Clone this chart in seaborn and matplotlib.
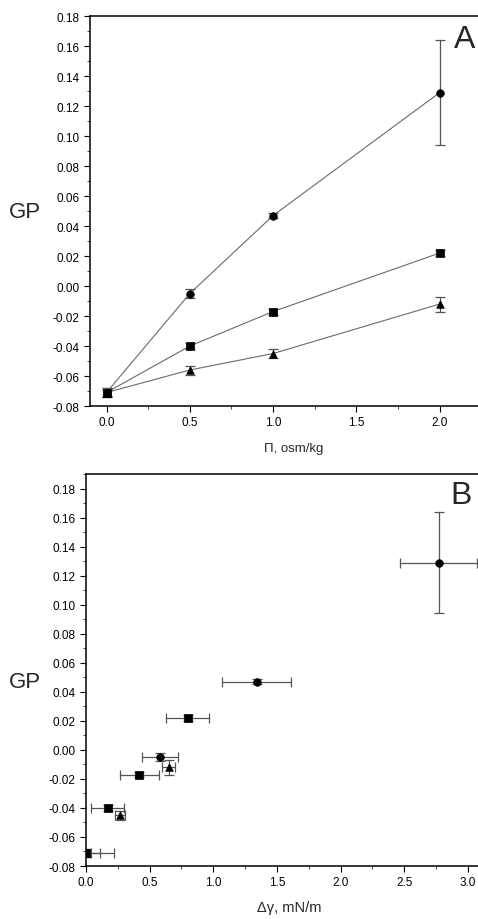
import numpy as np
import pandas as pd
import matplotlib
matplotlib.use("Agg")
import matplotlib.pyplot as plt
from matplotlib.ticker import MultipleLocator
import seaborn as sns

# Osmotic pressure (osm/kg)
osm = [0.0, 0.5, 1.0, 2.0]

# GP values per series (circle / square / triangle)
gp_circle = [-0.071, -0.005, 0.047, 0.129]
gp_square = [-0.071, -0.040, -0.017, 0.022]
gp_triangle = [-0.071, -0.056, -0.045, -0.012]

gp_circle_err = [0.003, 0.003, 0.0015, 0.035]
gp_square_err = [0.002, 0.002, 0.002, 0.002]
gp_triangle_err = [0.003, 0.003, 0.003, 0.005]

# Surface tension change (mN/m) with its uncertainty, and the GP at each
dg_circle = [0.0, 0.58, 1.34, 2.77]
dg_circle_err = [0.22, 0.14, 0.27, 0.30]
gpB_circle = [-0.071, -0.005, 0.047, 0.129]
gpB_circle_err = [0.003, 0.003, 0.0015, 0.035]

dg_square = [0.0, 0.17, 0.42, 0.80]
dg_square_err = [0.11, 0.13, 0.15, 0.17]
gpB_square = [-0.071, -0.040, -0.017, 0.022]
gpB_square_err = [0.002, 0.002, 0.002, 0.002]

dg_triangle = [0.0, 0.27, 0.65]
dg_triangle_err = [0.04, 0.04, 0.05]
gpB_triangle = [-0.071, -0.045, -0.012]
gpB_triangle_err = [0.003, 0.003, 0.005]

y_ticks = [-0.08, -0.06, -0.04, -0.02, 0.00, 0.02, 0.04, 0.06, 0.08,
           0.10, 0.12, 0.14, 0.16, 0.18]

sns.set_style("ticks")
plt.rcParams["font.family"] = ["Liberation Sans", "DejaVu Sans"]
plt.rcParams["axes.linewidth"] = 1.1
plt.rcParams["xtick.major.size"] = 4
plt.rcParams["ytick.major.size"] = 4
plt.rcParams["xtick.minor.size"] = 2.5
plt.rcParams["ytick.minor.size"] = 2.5
plt.rcParams["xtick.minor.visible"] = True
plt.rcParams["ytick.minor.visible"] = True

fig = plt.figure(figsize=(4.78, 9.2), dpi=100)
axA = fig.add_axes([0.188, 0.5576, 0.854, 0.4239])
axB = fig.add_axes([0.180, 0.0576, 0.852, 0.4261])

err_kw = dict(fmt="none", ecolor="#555555", elinewidth=0.9, capsize=3.5,
              capthick=0.9, zorder=2)

# Panel A: GP versus osmotic pressure
seriesA = [
    ("o", gp_circle, gp_circle_err),
    ("s", gp_square, gp_square_err),
    ("^", gp_triangle, gp_triangle_err),
]
for mk, gp, gperr in seriesA:
    df = pd.DataFrame({"osm": osm, "gp": gp})
    sns.lineplot(data=df, x="osm", y="gp", ax=axA, color="#6a6a6a",
                 linewidth=0.8, zorder=1)
    axA.errorbar(osm, gp, yerr=gperr, **err_kw)
    sns.scatterplot(data=df, x="osm", y="gp", ax=axA, marker=mk, s=30,
                    color="black", edgecolor="black", linewidth=0.5, zorder=3)

# Panel B: GP versus surface tension change
seriesB = [
    ("o", dg_circle, dg_circle_err, gpB_circle, gpB_circle_err),
    ("s", dg_square, dg_square_err, gpB_square, gpB_square_err),
    ("^", dg_triangle, dg_triangle_err, gpB_triangle, gpB_triangle_err),
]
for mk, dg, dgerr, gp, gperr in seriesB:
    df = pd.DataFrame({"dg": dg, "gp": gp})
    axB.errorbar(dg, gp, yerr=gperr, xerr=dgerr, **err_kw)
    sns.scatterplot(data=df, x="dg", y="gp", ax=axB, marker=mk, s=30,
                    color="black", edgecolor="black", linewidth=0.5, zorder=3)

for ax in (axA, axB):
    ax.set_ylim(-0.08, 0.18 if ax is axA else 0.19)
    ax.set_yticks(y_ticks)
    ax.set_yticklabels([f"{t:.2f}" for t in y_ticks])
    ax.yaxis.set_minor_locator(MultipleLocator(0.01))
    ax.xaxis.set_minor_locator(MultipleLocator(0.25))
    ax.tick_params(labelsize=8.5, direction="out", colors="black")
    ax.set_ylabel("")
    for s in ax.spines.values():
        s.set_color("black")
    ax.spines["right"].set_visible(False)

axA.set_xlim(-0.1, 2.35)
axA.set_xticks([0.0, 0.5, 1.0, 1.5, 2.0])
axA.set_xticklabels(["0.0", "0.5", "1.0", "1.5", "2.0"])
axA.set_xlabel("Π, osm/kg", fontsize=9.5, labelpad=10)

axB.set_xlim(0.0, 3.2)
axB.set_xticks([0.0, 0.5, 1.0, 1.5, 2.0, 2.5, 3.0])
axB.set_xticklabels(["0.0", "0.5", "1.0", "1.5", "2.0", "2.5", "3.0"])
axB.set_xlabel("Δγ, mN/m", fontsize=10.5, labelpad=8)

fig.text(0.052, 1 - 213 / 920, "GP", fontsize=16, ha="center", va="center")
fig.text(0.052, 1 - 683 / 920, "GP", fontsize=16, ha="center", va="center")
fig.text(0.972, 1 - 40 / 920, "A", fontsize=23, ha="center", va="center")
fig.text(0.965, 1 - 496 / 920, "B", fontsize=23, ha="center", va="center")

fig.savefig("out.png", dpi=100)
